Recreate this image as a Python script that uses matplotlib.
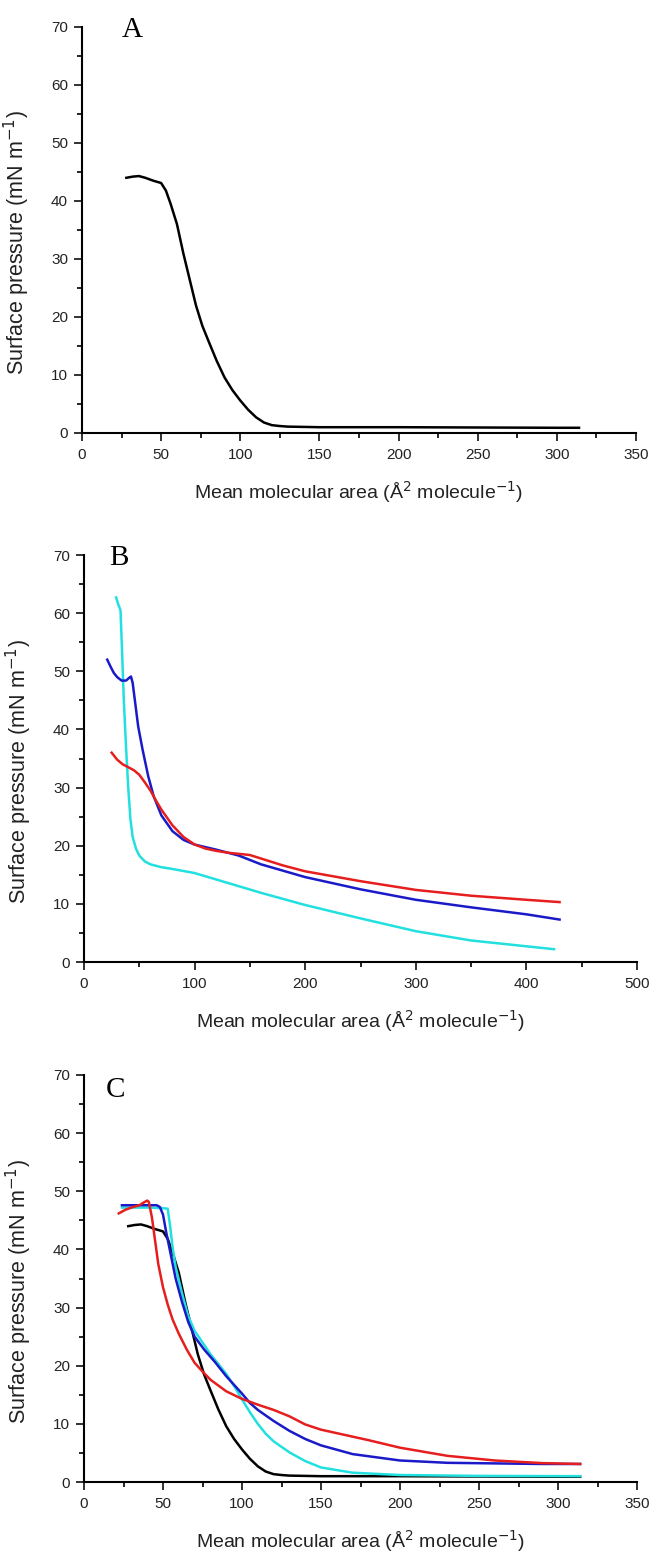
import matplotlib
matplotlib.use("Agg")
import matplotlib.pyplot as plt
from matplotlib.ticker import MultipleLocator

plt.rcParams['font.family'] = ['Liberation Sans', 'DejaVu Sans']

# panel A: black isotherm (also reused in panel C)
a_black_x = [28, 32, 36, 40, 45, 50, 53, 56, 60, 64, 68, 72, 76, 80, 85, 90, 95, 100,
             105, 110, 115, 120, 125, 130, 140, 150, 200, 250, 300, 314]
a_black_y = [44.0, 44.2, 44.3, 44.0, 43.5, 43.1, 41.8, 39.5, 36.0, 31.0, 26.5, 22.0,
             18.5, 15.8, 12.5, 9.6, 7.4, 5.6, 4.0, 2.7, 1.8, 1.35, 1.2, 1.1, 1.05, 1.0,
             1.0, 0.95, 0.9, 0.9]

# panel B
b_cyan_x = [29, 31, 33, 34.5, 36, 38, 40, 42, 44, 47, 50, 55, 60, 70, 80, 100, 130,
            160, 200, 250, 300, 350, 400, 425]
b_cyan_y = [62.7, 61.5, 60.5, 53, 45, 37, 30, 24.5, 21.5, 19.5, 18.3, 17.3, 16.8, 16.3,
            16.0, 15.3, 13.6, 11.9, 9.8, 7.5, 5.3, 3.7, 2.7, 2.2]
b_blue_x = [21, 24, 27, 30, 34, 38, 41, 42.5, 44, 46, 49, 53, 58, 63, 70, 80, 90, 100,
            120, 140, 160, 200, 250, 300, 350, 400, 430]
b_blue_y = [52, 50.8, 49.7, 49.0, 48.4, 48.4, 48.9, 49.1, 48, 45, 40.5, 36.5, 32, 28.5,
            25.2, 22.5, 21.0, 20.2, 19.3, 18.3, 16.8, 14.6, 12.5, 10.7, 9.4, 8.2, 7.3]
b_red_x = [25, 30, 35, 40, 45, 50, 55, 60, 65, 70, 80, 90, 100, 110, 120, 130, 140, 150,
           160, 180, 200, 250, 300, 350, 400, 430]
b_red_y = [36, 34.8, 34.0, 33.5, 33.0, 32.2, 30.9, 29.5, 27.8, 26.2, 23.5, 21.5, 20.2,
           19.5, 19.1, 18.8, 18.6, 18.4, 17.8, 16.6, 15.6, 13.9, 12.4, 11.4, 10.7, 10.3]

# panel C
c_blue_x = [24, 30, 40, 46, 48, 50, 52, 55, 58, 62, 66, 70, 76, 83, 90, 100, 105, 110,
            120, 130, 140, 150, 170, 200, 230, 260, 290, 314]
c_blue_y = [47.6, 47.6, 47.6, 47.6, 47.3, 46, 43, 39, 35, 31, 27.5, 25, 22.8, 20.6,
            18.2, 15.2, 13.6, 12.4, 10.5, 8.8, 7.4, 6.3, 4.8, 3.7, 3.3, 3.2, 3.1, 3.1]
c_cyan_x = [24, 30, 40, 50, 53, 54.5, 56, 58, 62, 66, 70, 75, 80, 85, 90, 95, 100, 105,
            110, 115, 120, 130, 140, 150, 170, 200, 250, 314]
c_cyan_y = [47.2, 47.2, 47.2, 47.1, 47.0, 44, 40.5, 37, 32.5, 28.5, 26, 24, 22, 20.3,
            18.6, 16.5, 14.2, 12, 10, 8.3, 7, 5.1, 3.6, 2.5, 1.6, 1.2, 1.05, 1.0]
c_red_x = [22, 26, 30, 35, 38, 40, 41, 43, 45, 47, 50, 53, 56, 60, 65, 70, 75, 80, 90,
           100, 110, 120, 130, 140, 150, 160, 180, 200, 230, 260, 290, 314]
c_red_y = [46.2, 46.8, 47.2, 47.6, 48.1, 48.4, 48.2, 45.5, 41.5, 37.5, 33.5, 30.5, 28,
           25.5, 22.8, 20.5, 19, 17.6, 15.6, 14.3, 13.3, 12.4, 11.3, 9.9, 9.0, 8.4, 7.2,
           5.9, 4.5, 3.7, 3.25, 3.1]

CYAN = '#22e0e0'
BLUE = '#1a1ac8'
RED = '#e61e1e'

fig = plt.figure(figsize=(6.51, 15.51), dpi=100)

def style_axes(ax, xmax, xmajor, letter, lx, ly):
    ax.set_xlim(0, xmax)
    ax.set_ylim(0, 70)
    ax.xaxis.set_major_locator(MultipleLocator(xmajor))
    ax.xaxis.set_minor_locator(MultipleLocator(xmajor / 2))
    ax.yaxis.set_major_locator(MultipleLocator(10))
    ax.yaxis.set_minor_locator(MultipleLocator(5))
    for s in ['top', 'right']:
        ax.spines[s].set_visible(False)
    for s in ['left', 'bottom']:
        ax.spines[s].set_linewidth(1.5)
    ax.tick_params(which='major', direction='out', length=6, width=1.3,
                   labelsize=11, colors='#222222', pad=4)
    ax.tick_params(axis='x', which='major', pad=5)
    ax.tick_params(which='minor', direction='out', length=3.5, width=1.2)
    ax.set_xlabel('Mean molecular area (Å$^{2}$ molecule$^{-1}$)', fontsize=14,
                  color='#222222')
    ax.set_ylabel('Surface pressure (mN m$^{-1}$)', fontsize=15.5, color='#222222')
    ax.xaxis.set_label_coords(0.5, -0.113)
    ax.yaxis.set_label_coords(-0.09, 0.468)
    ax.text(lx, ly, letter, transform=ax.transAxes, fontsize=21,
            family='Liberation Serif', va='baseline', ha='left')

axA = fig.add_axes([82 / 651, 1 - 433 / 1551, 554 / 651, 406 / 1551])
axA.plot(a_black_x, a_black_y, color='black', lw=1.8)
style_axes(axA, 350, 50, 'A', 0.072, 0.975)

axB = fig.add_axes([84 / 651, 1 - 962 / 1551, 553 / 651, 407 / 1551])
axB.plot(b_cyan_x, b_cyan_y, color=CYAN, lw=1.8)
axB.plot(b_blue_x, b_blue_y, color=BLUE, lw=1.8)
axB.plot(b_red_x, b_red_y, color=RED, lw=1.8)
style_axes(axB, 500, 100, 'B', 0.045, 0.975)

axC = fig.add_axes([84 / 651, 1 - 1482 / 1551, 553 / 651, 407 / 1551])
axC.plot(a_black_x, a_black_y, color='black', lw=1.8)
axC.plot(c_cyan_x, c_cyan_y, color=CYAN, lw=1.8)
axC.plot(c_blue_x, c_blue_y, color=BLUE, lw=1.8)
axC.plot(c_red_x, c_red_y, color=RED, lw=1.8)
style_axes(axC, 350, 50, 'C', 0.04, 0.946)

fig.savefig('out.png', dpi=100)
